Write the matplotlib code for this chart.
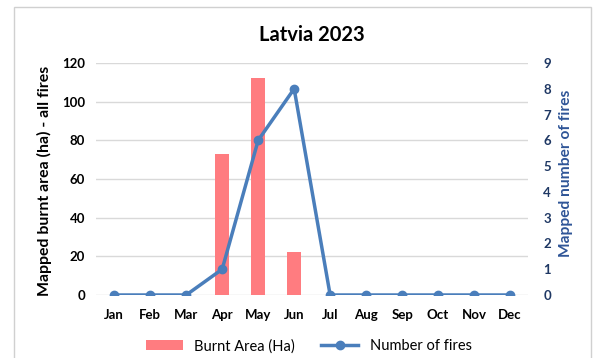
import matplotlib.pyplot as plt
from matplotlib.patches import Rectangle

months = ['Jan', 'Feb', 'Mar', 'Apr', 'May', 'Jun', 'Jul', 'Aug', 'Sep', 'Oct', 'Nov', 'Dec']
burnt_area = [0, 0, 0, 73, 112, 22, 0, 0, 0, 0, 0, 0]
n_fires = [0, 0, 0, 1, 6, 8, 0, 0, 0, 0, 0, 0]

plt.rcParams['font.family'] = ['Lato', 'DejaVu Sans']

fig = plt.figure(figsize=(5.94, 3.58), dpi=100)
ax = fig.add_axes([0.162, 0.176, 0.727, 0.648])

# outer frame like the source chart
fig.patches.append(Rectangle((14 / 594, -0.05), 577 / 594, 1 - 7 / 358 + 0.05,
                             transform=fig.transFigure, fill=False,
                             edgecolor='#d0d0d0', linewidth=1))

x = list(range(len(months)))
ax.bar(x, burnt_area, width=0.4, color='#ff7c80', label='Burnt Area (Ha)', zorder=2)
ax.set_ylim(0, 120)
ax.set_yticks(range(0, 121, 20))
ax.set_xlim(-0.5, 11.5)
ax.set_xticks(x)
ax.set_xticklabels(months, fontweight='bold', fontsize=9.5)
ax.grid(axis='y', color='#d9d9d9', linewidth=1, zorder=0)
for s in ax.spines.values():
    s.set_visible(False)
ax.tick_params(length=0, labelsize=9.5, pad=8)
ax.tick_params(axis='x', pad=10)
for t in ax.get_yticklabels():
    t.set_fontweight('bold')
ax.set_ylabel('Mapped burnt area (ha) - all fires', fontweight='bold', fontsize=11.4, labelpad=7)
ax.yaxis.label.set_y(0.49)

ax2 = ax.twinx()
ax2.plot(x, n_fires, color='#4a7ebb', linewidth=2.5, marker='o', markersize=6,
         label='Number of fires', zorder=3)
ax2.set_ylim(0, 9)
ax2.set_yticks(range(0, 10))
for s in ax2.spines.values():
    s.set_visible(False)
ax2.tick_params(length=0, labelsize=9.5, pad=11, labelcolor='#1f3864')
for t in ax2.get_yticklabels():
    t.set_fontweight('bold')
ax2.set_ylabel('Mapped number of fires', fontweight='bold', fontsize=11.2,
               color='#2f5597', labelpad=6)
ax2.yaxis.label.set_y(0.525)

ax.set_title('Latvia 2023', fontweight='bold', fontsize=14.5, pad=16)

h1, l1 = ax.get_legend_handles_labels()
h2, l2 = ax2.get_legend_handles_labels()
fig.legend(h1 + h2, l1 + l2, loc='center', bbox_to_anchor=(0.52, 0.033), ncol=2,
           frameon=False, fontsize=10.5, columnspacing=1.8, handlelength=2.5)

plt.savefig('out.png', dpi=100)
plt.close()
